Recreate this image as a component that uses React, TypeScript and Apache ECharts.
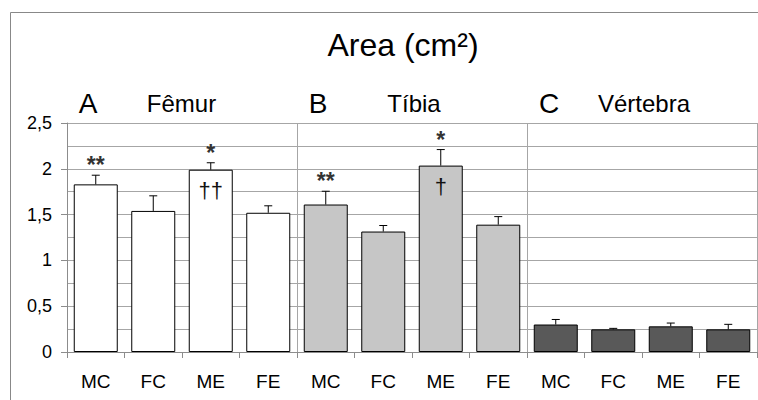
import React, { useEffect, useRef } from "react";
import * as echarts from "echarts";

const groups = ["Fêmur", "Tíbia", "Vértebra"];
const groupLetters = ["A", "B", "C"];
const categories = ["MC", "FC", "ME", "FE"];

const femurValues = [1.83, 1.54, 1.99, 1.52];
const femurErr = [0.1, 0.165, 0.076, 0.076];
const tibiaValues = [1.61, 1.315, 2.035, 1.39];
const tibiaErr = [0.145, 0.066, 0.175, 0.088];
const vertebraValues = [0.3, 0.247, 0.28, 0.247];
const vertebraErr = [0.055, 0.011, 0.036, 0.055];

const sigAbove = ["**", "", "*", "", "**", "", "*", "", "", "", "", ""];
const sigInside = ["", "", "††", "", "", "", "†", "", "", "", "", ""];

const yTicks = [0, 0.5, 1, 1.5, 2, 2.5];

const groupColors = ["#ffffff", "#c6c6c6", "#595959"];

const FONT = "'Liberation Sans', Arial, sans-serif";

export default function App() {
  const ref = useRef<HTMLDivElement>(null);

  useEffect(() => {
    if (!ref.current) return;
    const chart = echarts.init(ref.current, undefined, { renderer: "svg" });

    const valueGroups = [femurValues, tibiaValues, vertebraValues];
    const errGroups = [femurErr, tibiaErr, vertebraErr];
    const xData: string[] = [];
    const barData: any[] = [];
    const errData: number[][] = [];
    groups.forEach((g, gi) => {
      categories.forEach((c, ci) => {
        const idx = xData.length;
        xData.push(g + "|" + c);
        barData.push({
          value: valueGroups[gi][ci],
          itemStyle: { color: groupColors[gi] },
        });
        errData.push([idx, valueGroups[gi][ci], errGroups[gi][ci]]);
      });
    });

    const panelGraphics: any[] = [];
    const letterX = [88, 318, 549];
    const nameX = [181.5, 414, 644];
    groups.forEach((g, gi) => {
      panelGraphics.push({
        type: "text",
        x: letterX[gi],
        y: 103,
        style: {
          text: groupLetters[gi],
          font: `28px ${FONT}`,
          fill: "#000",
          align: "center",
          verticalAlign: "middle",
        },
      });
      panelGraphics.push({
        type: "text",
        x: nameX[gi],
        y: 103,
        style: {
          text: g,
          font: `24px ${FONT}`,
          fill: "#000",
          align: "center",
          verticalAlign: "middle",
        },
      });
    });

    chart.setOption({
      animation: false,
      grid: { left: 67, top: 123, width: 690, height: 229, containLabel: false },
      graphic: [
        {
          type: "rect",
          shape: { x: 10.5, y: 12.5, width: 900, height: 600 },
          style: { fill: "none", stroke: "#888888", lineWidth: 1 },
          silent: true,
        },
        {
          type: "text",
          x: 403,
          y: 45,
          style: {
            text: "Area (cm²)",
            font: `32px ${FONT}`,
            fill: "#000",
            align: "center",
            verticalAlign: "middle",
          },
        },
        ...panelGraphics,
      ],
      xAxis: {
        type: "category",
        data: xData,
        boundaryGap: true,
        axisLine: { show: true, lineStyle: { color: "#8c8c8c", width: 1 } },
        axisTick: { show: true, length: 6, lineStyle: { color: "#8c8c8c" } },
        axisLabel: {
          margin: 20,
          fontSize: 19,
          fontFamily: FONT,
          color: "#000",
          formatter: (v: string) => v.split("|")[1],
        },
        splitLine: {
          show: true,
          interval: (index: number) => index === 4 || index === 8,
          lineStyle: { color: "#a6a6a6", width: 1 },
        },
      },
      yAxis: {
        type: "value",
        min: yTicks[0],
        max: yTicks[yTicks.length - 1],
        interval: 0.5,
        axisLine: { show: true, lineStyle: { color: "#8c8c8c", width: 1 } },
        axisTick: { show: true, length: 6, lineStyle: { color: "#8c8c8c" } },
        axisLabel: {
          margin: 15,
          fontSize: 18,
          fontFamily: FONT,
          color: "#000",
          formatter: (v: number) => String(v).replace(".", ","),
        },
        splitLine: { show: true, lineStyle: { color: "#a6a6a6", width: 1 } },
        minorTick: { show: false, splitNumber: 2 },
        minorSplitLine: { show: true, lineStyle: { color: "#a6a6a6", width: 1 } },
      },
      series: [
        {
          type: "bar",
          data: barData,
          barWidth: 44,
          itemStyle: { borderColor: "#000", borderWidth: 1 },
          z: 2,
        },
        {
          type: "custom",
          data: errData,
          z: 3,
          renderItem: (params: any, api: any) => {
            const idx = api.value(0);
            const v = api.value(1);
            const e = api.value(2);
            const p0 = api.coord([idx, v]);
            const p1 = api.coord([idx, v + e]);
            const cap = 4;
            const children: any[] = [
              {
                type: "line",
                shape: { x1: p0[0], y1: p0[1], x2: p1[0], y2: p1[1] },
                style: { stroke: "#000", lineWidth: 1 },
              },
              {
                type: "line",
                shape: { x1: p1[0] - cap, y1: p1[1], x2: p1[0] + cap, y2: p1[1] },
                style: { stroke: "#000", lineWidth: 1 },
              },
            ];
            const i = params.dataIndex;
            if (sigAbove[i]) {
              children.push({
                type: "text",
                x: p1[0],
                y: p1[1] - 10,
                style: {
                  text: sigAbove[i],
                  font: `bold 23px ${FONT}`,
                  fill: "#333",
                  align: "center",
                  verticalAlign: "middle",
                },
              });
            }
            if (sigInside[i]) {
              children.push({
                type: "text",
                x: p0[0],
                y: p0[1] + 21,
                style: {
                  text: sigInside[i],
                  font: `22px ${FONT}`,
                  fill: "#111",
                  align: "center",
                  verticalAlign: "middle",
                },
              });
            }
            return { type: "group", children };
          },
        },
      ],
    });

    return () => chart.dispose();
  }, []);

  return (
    <div
      ref={ref}
      style={{ position: "absolute", left: 0, top: 0, width: 758, height: 400 }}
    />
  );
}
